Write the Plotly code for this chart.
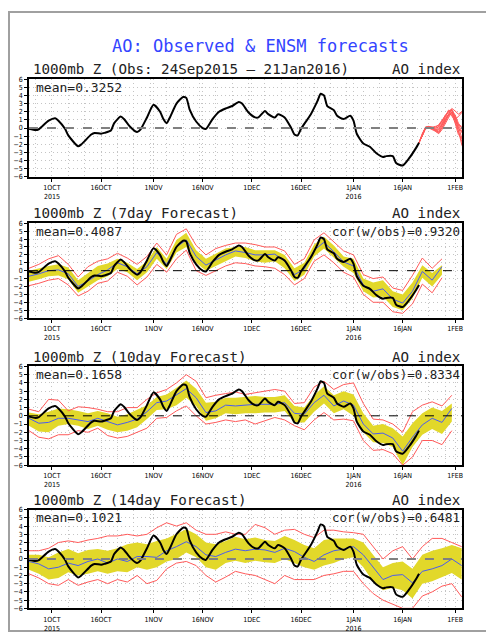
import plotly.graph_objects as go

# ---------------- data ----------------
OBS_DATES = ["2015-09-24","2015-09-26","2015-09-27","2015-09-30","2015-10-02","2015-10-03","2015-10-05",
             "2015-10-06","2015-10-09","2015-10-10","2015-10-13","2015-10-14","2015-10-16","2015-10-17",
             "2015-10-19","2015-10-20","2015-10-22","2015-10-23","2015-10-25","2015-10-27","2015-10-28",
             "2015-10-30","2015-11-01","2015-11-03","2015-11-04","2015-11-05","2015-11-06","2015-11-08",
             "2015-11-10","2015-11-11","2015-11-12","2015-11-14","2015-11-16","2015-11-17","2015-11-19",
             "2015-11-21","2015-11-23","2015-11-25","2015-11-27","2015-11-28","2015-11-30","2015-12-02",
             "2015-12-03","2015-12-05","2015-12-06","2015-12-08","2015-12-09","2015-12-11","2015-12-13",
             "2015-12-14","2015-12-15","2015-12-16","2015-12-19","2015-12-21","2015-12-22","2015-12-23",
             "2015-12-24","2015-12-26","2015-12-27","2015-12-29","2015-12-31","2016-01-01","2016-01-02",
             "2016-01-04","2016-01-06","2016-01-08","2016-01-10","2016-01-11","2016-01-13","2016-01-14",
             "2016-01-16","2016-01-18","2016-01-20","2016-01-21"]
OBS_VALUES = [-0.1,-0.25,-0.15,0.9,1.2,0.9,-0.1,
              -0.9,-2.25,-2.0,-0.8,-0.6,-0.7,-0.6,
              -0.3,0.6,1.4,1.1,0.1,-0.5,-0.2,
              1.3,2.85,2.0,1.1,0.6,1.3,3.0,
              3.8,3.7,2.3,0.8,0.0,-0.1,1.1,
              2.0,2.4,2.7,3.2,3.0,1.9,1.3,
              1.3,2.1,1.7,1.3,1.7,1.3,0.0,
              -0.8,-0.9,-0.1,1.7,3.3,4.2,4.0,
              2.7,2.2,1.5,1.1,1.5,0.9,-0.7,
              -1.9,-2.3,-3.1,-3.55,-3.45,-3.45,-4.3,
              -4.6,-3.7,-2.5,-1.8]

ENS_DATES = ["2016-01-21","2016-01-22","2016-01-23","2016-01-24","2016-01-25","2016-01-26","2016-01-27",
             "2016-01-28","2016-01-29","2016-01-30","2016-01-31","2016-02-01","2016-02-02","2016-02-03",
             "2016-02-04"]
ENS_MEMBERS = [
    [-1.8,-0.8,0.0,0.1,0.0,-0.2,-0.4,0.3,1.0,1.8,2.4,2.1,1.7,2.0,1.6],
    [-1.8,-0.7,0.1,0.2,0.0,0.1,0.4,1.0,1.5,2.0,2.2,1.2,0.3,-0.4,-0.9],
    [-1.8,-0.9,-0.1,0.0,-0.2,-0.5,-0.6,0.0,0.8,1.5,2.0,1.5,0.2,-1.2,-2.0],
    [-1.8,-0.8,0.0,0.1,0.1,-0.1,0.2,0.9,1.3,2.1,2.3,0.8,-0.5,-1.6,-2.6],
    [-1.8,-0.8,0.1,0.1,-0.1,-0.3,-0.2,0.5,1.2,1.6,1.9,1.0,0.0,-0.5,-1.2],
    [-1.8,-0.9,0.0,0.0,0.0,-0.4,-0.7,-0.2,0.6,1.4,2.0,1.4,-0.5,-2.0,-3.1],
    [-1.8,-0.7,0.1,0.2,0.1,0.0,0.1,0.6,1.4,2.2,1.8,1.1,1.4,1.9,1.3],
    [-1.8,-0.8,0.0,0.1,0.0,-0.2,-0.1,0.4,1.1,1.7,2.2,1.6,0.6,0.0,-0.4],
    [-1.8,-0.8,0.0,0.0,-0.1,-0.3,-0.5,0.1,0.9,1.6,1.7,0.6,-0.8,-1.2,-1.7],
    [-1.8,-0.8,0.1,0.1,0.1,0.2,0.3,0.8,1.6,2.0,1.5,0.9,0.4,0.2,0.6],
]

FC_DATES = ["2015-09-24","2015-09-27","2015-09-30","2015-10-03","2015-10-06","2015-10-09","2015-10-12",
            "2015-10-15","2015-10-18","2015-10-21","2015-10-24","2015-10-27","2015-10-30","2015-11-02",
            "2015-11-05","2015-11-08","2015-11-11","2015-11-14","2015-11-17","2015-11-20","2015-11-23",
            "2015-11-26","2015-11-29","2015-12-02","2015-12-05","2015-12-08","2015-12-11","2015-12-14",
            "2015-12-17","2015-12-20","2015-12-23","2015-12-26","2015-12-29","2016-01-01","2016-01-04",
            "2016-01-07","2016-01-10","2016-01-13","2016-01-16","2016-01-19","2016-01-22","2016-01-25",
            "2016-01-28","2016-01-31","2016-02-03"]

# 7-day forecast
F7_MEAN = [-0.7,-0.4,0.0,0.1,-0.4,-2.0,-1.3,-0.5,0.1,1.0,0.5,-0.4,0.5,2.3,0.8,3.0,3.9,1.8,0.7,1.4,2.0,2.5,
           2.3,2.0,2.0,2.1,1.2,-0.5,0.2,2.6,3.6,2.4,1.1,0.6,-1.8,-2.6,-2.3,-3.6,-4.1,-2.6,-0.1,-1.2,0.5]
F7_LO = [-1.4,-1.1,-0.7,-0.6,-1.1,-2.8,-2.0,-1.2,-0.7,0.2,-0.2,-1.2,-0.2,1.5,0.2,2.3,3.0,1.0,0.0,0.6,1.2,1.8,
         1.6,1.2,1.0,1.2,0.3,-1.3,-0.5,1.8,2.8,1.6,0.5,-0.3,-2.6,-3.4,-3.3,-4.6,-5.0,-3.5,-0.9,-2.0,-0.5]
F7_HI = [0.0,0.3,0.6,0.8,0.4,-1.2,-0.3,0.6,0.9,1.5,1.0,0.2,1.2,3.0,1.5,3.9,4.8,2.6,1.5,2.2,2.8,3.0,
         3.0,2.6,2.6,2.6,2.0,0.3,1.0,3.3,4.3,3.2,1.8,1.5,-1.0,-1.5,-1.2,-2.6,-3.0,-1.5,0.7,-0.3,0.7]
F7_MIN = [-1.9,-1.6,-1.2,-1.0,-1.8,-3.2,-2.6,-1.6,-1.3,-0.2,-0.7,-1.8,-0.8,0.8,-0.2,1.5,2.6,0.0,-0.6,0.0,0.6,1.0,
          0.9,0.6,0.5,0.3,-0.5,-1.8,-1.0,1.2,2.0,1.0,-0.2,-0.8,-3.0,-4.0,-4.0,-5.2,-5.4,-4.2,-1.7,-2.8,-0.9]
F7_MAX = [0.3,0.8,1.5,1.9,0.8,-0.8,0.5,1.2,1.5,2.2,1.6,0.8,1.8,3.5,2.0,4.6,5.3,3.2,2.0,2.8,3.2,3.5,
          3.5,3.3,3.0,3.0,2.5,0.8,1.5,3.9,4.8,3.7,2.5,2.0,-0.5,-1.0,-0.8,-2.2,-2.5,-0.6,1.6,0.3,1.5]

# 10-day forecast
F10_MEAN = [-0.3,-0.9,-0.8,-0.3,-0.3,-0.5,-0.7,-0.3,-0.7,-1.1,-0.8,-0.4,0.5,1.6,1.8,2.5,3.3,2.2,0.4,0.6,1.3,1.2,
            1.3,1.4,1.4,1.4,1.6,0.3,0.2,1.6,2.5,1.2,1.8,1.3,-1.0,-2.2,-2.1,-2.7,-4.3,-2.6,-1.1,-0.3,-0.8,0.9]
F10_LO = [-1.2,-1.9,-2.0,-1.2,-1.0,-1.2,-1.6,-1.2,-1.7,-2.0,-1.8,-1.4,-0.4,0.7,0.8,1.3,2.2,1.2,-0.6,-0.3,0.3,0.2,
          0.3,0.3,0.4,0.4,0.6,-0.8,-0.8,0.5,1.5,0.3,0.8,0.0,-2.0,-3.2,-3.3,-3.8,-6.0,-3.8,-2.3,-1.6,-2.2,-0.7]
F10_HI = [0.4,0.2,0.5,0.9,0.8,0.6,0.3,0.6,0.3,-0.1,0.2,0.8,1.3,2.3,2.6,3.4,4.3,3.3,1.6,1.7,2.2,2.2,
          2.3,2.4,2.3,2.3,2.5,1.2,1.0,2.5,3.6,2.5,3.0,2.6,0.3,-1.2,-1.0,-1.5,-2.5,-0.9,0.3,1.0,0.6,1.5]
F10_MIN = [-1.8,-2.6,-2.8,-2.3,-2.3,-1.8,-2.0,-1.5,-2.4,-2.7,-2.5,-2.0,-1.5,-0.3,-0.2,0.6,1.2,0.0,-1.0,-0.8,-0.5,-0.7,
           -0.5,-1.0,-0.6,-0.2,-0.5,-1.2,-1.7,-0.5,0.4,-0.5,-0.4,-0.6,-3.0,-4.2,-4.1,-4.6,-6.0,-5.0,-3.0,-3.0,-3.5,-1.8]
F10_MAX = [0.8,0.5,2.0,1.9,0.6,1.1,1.0,0.8,0.5,0.5,1.0,1.0,2.0,2.8,3.2,4.0,5.0,4.2,2.2,2.5,2.7,2.9,
           2.6,2.8,3.0,3.2,3.0,1.5,1.6,3.5,4.2,3.2,3.8,4.0,1.5,-0.4,-0.5,-1.0,-2.0,0.5,1.3,1.7,1.2,2.5]

# 14-day forecast
F14_MEAN = [-0.3,-0.6,-1.2,-1.0,-0.5,-0.8,-0.3,0.0,-0.5,0.0,-0.3,0.3,0.3,0.2,1.0,1.5,2.1,1.5,0.5,0.3,0.8,1.2,
            1.0,1.2,1.1,0.8,1.3,0.9,0.2,-0.3,0.5,1.0,1.2,1.5,0.5,-1.0,-2.5,-2.0,-1.9,-2.9,-1.5,-1.2,-0.8,0.0,-0.8]
F14_LO = [-1.3,-1.8,-2.5,-2.3,-1.6,-2.0,-1.8,-1.5,-1.8,-1.5,-1.6,-1.0,-1.3,-1.0,-0.3,0.0,0.8,0.2,-1.0,-1.3,-0.5,-0.2,
          -0.5,-0.2,-0.4,-0.5,0.0,-0.5,-1.0,-1.3,-0.8,-0.5,0.0,0.2,-1.0,-2.8,-3.8,-3.5,-3.8,-4.8,-3.0,-2.7,-2.2,-1.7,-2.5]
F14_HI = [0.5,0.5,0.2,0.8,1.2,0.7,1.1,1.2,1.0,1.3,1.8,2.0,1.8,2.2,2.5,3.0,3.6,3.0,2.0,1.8,2.2,2.7,
          2.4,2.6,2.3,2.2,2.8,2.3,1.7,1.3,2.3,2.5,2.5,2.5,2.0,0.5,-1.0,-0.5,-0.3,-1.2,0.5,1.0,1.3,1.7,1.3]
F14_MIN = [-1.8,-2.3,-3.0,-3.2,-2.5,-3.2,-2.8,-2.5,-3.0,-2.5,-2.8,-2.0,-3.0,-2.6,-1.2,-0.5,-0.3,-0.8,-2.0,-2.8,-2.2,-1.5,
           -1.8,-2.0,-2.5,-3.0,-2.0,-2.5,-2.5,-2.5,-2.0,-1.8,-1.5,-1.5,-3.0,-4.2,-5.0,-5.5,-6.0,-6.0,-4.5,-4.0,-3.3,-3.0,-4.6]
F14_MAX = [1.0,1.0,1.3,2.0,2.2,2.0,2.3,2.5,2.8,2.8,3.0,2.8,3.0,3.8,4.4,4.0,4.4,3.5,3.0,3.0,3.3,3.0,
           3.0,4.2,3.8,3.0,3.5,3.6,3.0,2.6,3.5,3.5,3.3,3.2,3.0,1.5,0.0,1.0,1.5,0.0,1.5,2.5,2.5,2.0,1.5]

TITLE = "AO: Observed & ENSM forecasts"
SUBTITLES = ["1000mb Z (Obs: 24Sep2015 – 21Jan2016)", "1000mb Z (7day Forecast)",
             "1000mb Z (10day Forecast)", "1000mb Z (14day Forecast)"]
MEANS = ["mean=0.3252", "mean=0.4087", "mean=0.1658", "mean=0.1021"]
CORS = [None, "cor(w/obs)=0.9320", "cor(w/obs)=0.8334", "cor(w/obs)=0.6481"]
TICK_DATES = ["2015-10-01","2015-10-16","2015-11-01","2015-11-16","2015-12-01","2015-12-16",
              "2016-01-01","2016-01-16","2016-02-01"]
TICK_TEXT = ["1OCT<br>2015","16OCT","1NOV","16NOV","1DEC","16DEC","1JAN<br>2016","16JAN","1FEB"]
Y_TICKS = list(range(-6, 7))

# ---------------- layout helpers ----------------
OFF = 8                      # page body margin of the html page
W, H = 494 - OFF, 640 - OFF  # figure size so the picture fits the window
X0, X1 = 29, 463
PANELS = [(76, 175), (222, 318), (367, 467), (512, 612)]
YELLOW = "#e2d82a"
RED = "#ff5a5a"
BLUE = "#4a5cf0"
GRID = "#c4c4c4"
MONO = "DejaVu Sans Mono"
SMALL = "DejaVu Sans Condensed, DejaVu Sans"

def px(x):
    return (x - OFF) / W

def py(y):
    return 1 - (y - OFF) / H

fig = go.Figure()
layout = dict(width=W, height=H, margin=dict(l=0, r=0, t=0, b=0),
              paper_bgcolor="white", plot_bgcolor="white", showlegend=False)
shapes, annotations = [], []

forecasts = [None,
             (F7_MEAN, F7_LO, F7_HI, F7_MIN, F7_MAX),
             (F10_MEAN, F10_LO, F10_HI, F10_MIN, F10_MAX),
             (F14_MEAN, F14_LO, F14_HI, F14_MIN, F14_MAX)]

for i, (top, bot) in enumerate(PANELS):
    n = i + 1
    xa = "x" if n == 1 else f"x{n}"
    ya = "y" if n == 1 else f"y{n}"
    xkey = "xaxis" if n == 1 else f"xaxis{n}"
    ykey = "yaxis" if n == 1 else f"yaxis{n}"
    layout[xkey] = dict(domain=[px(X0), px(X1)], anchor=ya, type="date",
                        range=["2015-09-24", "2016-02-03 03:00"],
                        tickvals=TICK_DATES, ticktext=TICK_TEXT, ticks="outside", ticklen=3,
                        tickcolor="black", tickfont=dict(family=SMALL, size=7, color="black"),
                        showgrid=True, gridcolor=GRID, griddash="1px,3px", gridwidth=1,
                        minor=dict(dtick=5 * 86400000, tick0="2015-10-01", showgrid=True,
                                   gridcolor=GRID, griddash="1px,3px", gridwidth=1),
                        showline=True, mirror=True, linecolor="black", linewidth=1.5,
                        zeroline=False, fixedrange=True)
    layout[ykey] = dict(domain=[py(bot), py(top)], anchor=xa, range=[-6, 6],
                        tickvals=Y_TICKS, ticks="outside", ticklen=3, tickcolor="black",
                        tickfont=dict(family=SMALL, size=7, color="black"),
                        showgrid=True, gridcolor=GRID, griddash="1px,3px", gridwidth=1,
                        showline=True, mirror=True, linecolor="black", linewidth=1.5,
                        zeroline=False, fixedrange=True)

    fc = forecasts[i]
    if fc is not None:
        mean, lo, hi, mn, mx = fc
        d = FC_DATES[:len(mean)]
        fig.add_trace(go.Scatter(x=d, y=lo, mode="lines", line=dict(width=0, color=YELLOW),
                                 xaxis=xa, yaxis=ya, hoverinfo="skip"))
        fig.add_trace(go.Scatter(x=d, y=hi, mode="lines", line=dict(width=0, color=YELLOW),
                                 fill="tonexty", fillcolor=YELLOW, xaxis=xa, yaxis=ya))
        fig.add_trace(go.Scatter(x=d, y=mn, mode="lines", line=dict(width=1, color=RED),
                                 xaxis=xa, yaxis=ya))
        fig.add_trace(go.Scatter(x=d, y=mx, mode="lines", line=dict(width=1, color=RED),
                                 xaxis=xa, yaxis=ya))
        fig.add_trace(go.Scatter(x=d, y=mean, mode="lines", line=dict(width=1, color=BLUE),
                                 xaxis=xa, yaxis=ya))
    else:
        for mem in ENS_MEMBERS:
            fig.add_trace(go.Scatter(x=ENS_DATES, y=mem, mode="lines",
                                     line=dict(width=1, color=RED), xaxis=xa, yaxis=ya))

    zero_color = "#808080" if n in (1, 4) else "black"
    zero_w = 2 if n in (1, 4) else 1
    shapes.append(dict(type="line", xref=f"{xa} domain", yref=ya, x0=0, x1=1, y0=0, y1=0,
                       line=dict(color=zero_color, width=zero_w, dash="dash"), layer="above"))

    fig.add_trace(go.Scatter(x=OBS_DATES, y=OBS_VALUES, mode="lines",
                             line=dict(width=2, color="black", shape="spline", smoothing=0.6),
                             xaxis=xa, yaxis=ya))

    # subtitles
    annotations.append(dict(x=px(31), y=py(top - 10), xref="paper", yref="paper", text=SUBTITLES[i],
                            showarrow=False, xanchor="left", yanchor="middle",
                            font=dict(family=MONO, size=14.2, color="#222")))
    annotations.append(dict(x=px(464), y=py(top - 10), xref="paper", yref="paper", text="AO index",
                            showarrow=False, xanchor="right", yanchor="middle",
                            font=dict(family=MONO, size=14.2, color="#222")))
    annotations.append(dict(x=px(34), y=py(top + 8), xref="paper", yref="paper", text=MEANS[i],
                            showarrow=False, xanchor="left", yanchor="middle",
                            font=dict(family=MONO, size=13, color="#222")))
    if CORS[i]:
        annotations.append(dict(x=px(463), y=py(top + 8), xref="paper", yref="paper", text=CORS[i],
                                showarrow=False, xanchor="right", yanchor="middle",
                                font=dict(family=MONO, size=12.5, color="#222")))

annotations.append(dict(x=px(261), y=py(42), xref="paper", yref="paper", text=TITLE,
                        showarrow=False, xanchor="center", yanchor="middle",
                        font=dict(family=MONO, size=17, color="#3344ff")))
shapes.append(dict(type="rect", xref="paper", yref="paper", x0=px(9), x1=px(489), y0=py(635), y1=py(8),
                   line=dict(color="#a0a0a0", width=2), layer="below"))

layout["shapes"] = shapes
layout["annotations"] = annotations
fig.update_layout(**layout)
fig.write_html("out.html")
